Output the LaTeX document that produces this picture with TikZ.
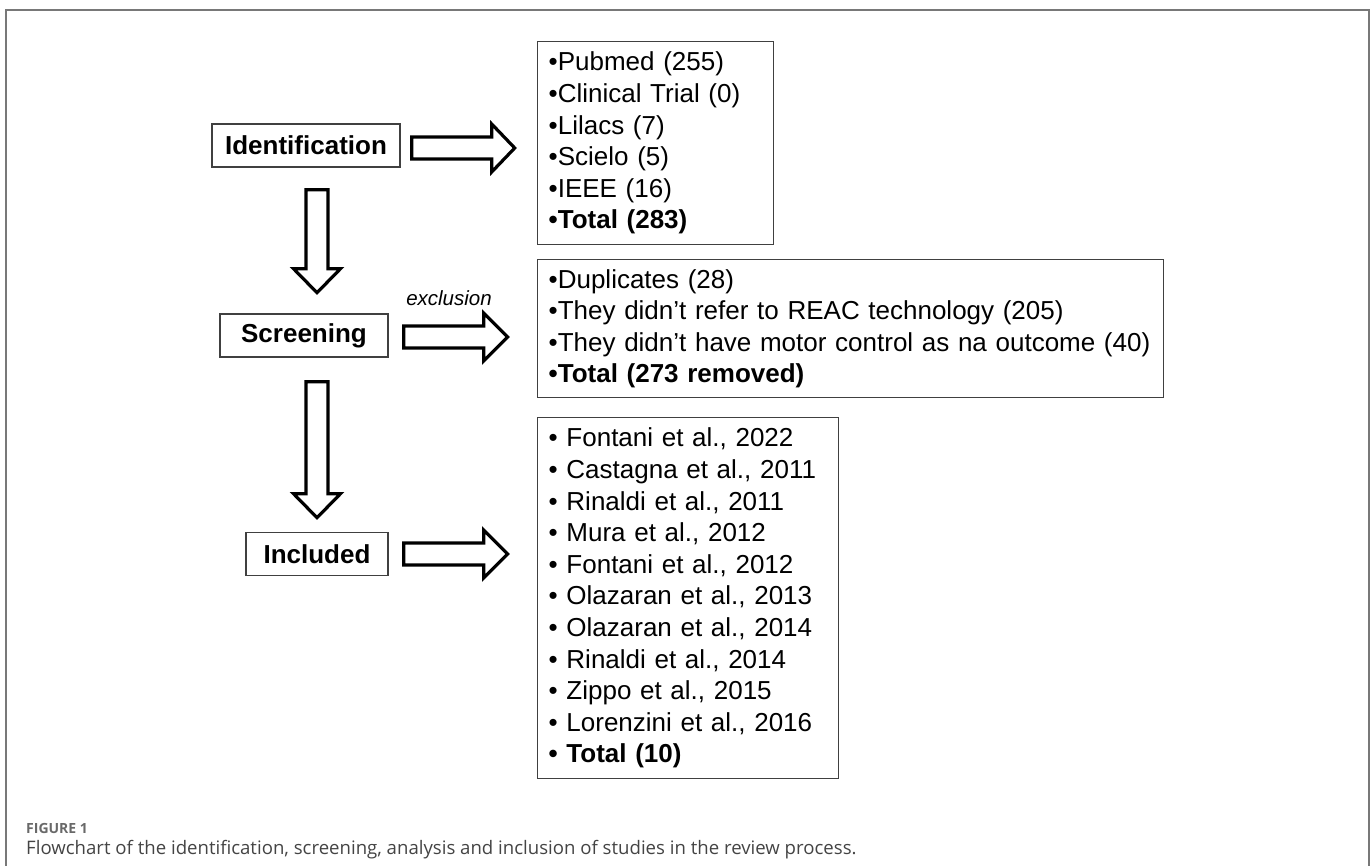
\documentclass[tikz,border=0pt]{standalone}
\usepackage{fontspec}
\setmainfont{Liberation Sans}
\newfontfamily\capfont{Open Sans}
\usepackage{xcolor}
\definecolor{frameGray}{RGB}{120,120,120}
\definecolor{boxGray}{RGB}{64,64,64}
\definecolor{capGray}{RGB}{105,105,105}
\definecolor{capText}{RGB}{68,68,68}

\begin{document}
\begin{tikzpicture}[x=1pt, y=-1pt,
    stage/.style={draw=boxGray, line width=1.4pt, minimum height=43pt, inner sep=0pt,
        font=\fontsize{26}{31.6}\selectfont\bfseries},
    listbox/.style={draw=boxGray, line width=1.4pt, anchor=north west, align=left,
        inner xsep=11pt, inner ysep=0pt, font=\fontsize{26}{31.6}\selectfont},
    blockarrow/.style={draw=black, line width=3.2pt, fill=white, line join=miter},
    pics/rarrow/.style={code={
        \draw[blockarrow] (0,-11) -- (80,-11) -- (80,-24) -- (#1,0) -- (80,24) -- (80,11) -- (0,11) -- cycle;}},
    pics/darrow/.style={code={
        \draw[blockarrow] (-11,0) -- (-11,{#1-24}) -- (-23.5,{#1-24}) -- (0,#1) -- (23.5,{#1-24}) -- (11,{#1-24}) -- (11,0) -- cycle;}}
]
    \useasboundingbox (0,0) rectangle (1372,865);
    \draw[frameGray, line width=2pt] (6,866) -- (6,10) -- (1369,10) -- (1369,866);

    \node[stage, minimum width=188pt] (ident) at (306,145.5) {Identification};
    \node[stage, minimum width=168pt] (screen) at (304,335.5) {Screening};
    \node[stage, minimum width=142pt] (incl) at (317,554) {Included};

    \node[listbox, text width=214pt, minimum height=203pt] (sources) at (537,41)
        {•Pubmed (255)\\•Clinical Trial (0)\\•Lilacs (7)\\•Scielo (5)\\•IEEE (16)\\\textbf{•Total (283)}};
    \node[listbox, text width=604pt, minimum height=138pt] (removed) at (537,259)
        {•Duplicates (28)\\•They didn’t refer to REAC technology (205)\\•They didn’t have motor control as na outcome (40)\\\textbf{•Total (273 removed)}};
    \node[listbox, text width=279pt, minimum height=361pt] (studies) at (537,417)
        {• Fontani et al., 2022\\• Castagna et al., 2011\\• Rinaldi et al., 2011\\• Mura et al., 2012\\• Fontani et al., 2012\\• Olazaran et al., 2013\\• Olazaran et al., 2014\\• Rinaldi et al., 2014\\• Zippo et al., 2015\\• Lorenzini et al., 2016\\\textbf{• Total (10)}};

    \pic at ([xshift=11pt, yshift=-2.5pt]ident.east) {rarrow=103};
    \pic at ([xshift=15pt, yshift=-1.5pt]screen.east) {rarrow=104};
    \pic at ([xshift=15pt]incl.east) {rarrow=104};
    \pic at ([xshift=11pt, yshift=-22pt]ident.south) {darrow=103};
    \pic at ([xshift=13pt, yshift=-24pt]screen.south) {darrow=136};

    \node[font=\fontsize{20.5}{24}\selectfont\itshape] (exclLabel) at (449,298) {exclusion};

    \node[anchor=west, inner sep=0pt, text=capGray, font=\capfont\bfseries\fontsize{14}{16}\selectfont] (figLabel) at (26,828) {FIGURE 1};
    \node[anchor=west, inner sep=0pt, text=capText, font=\capfont\fontsize{18.6}{21}\selectfont] (caption) at (26,850)
        {Flowchart of the identification, screening, analysis and inclusion of studies in the review process.};
\end{tikzpicture}
\end{document}
